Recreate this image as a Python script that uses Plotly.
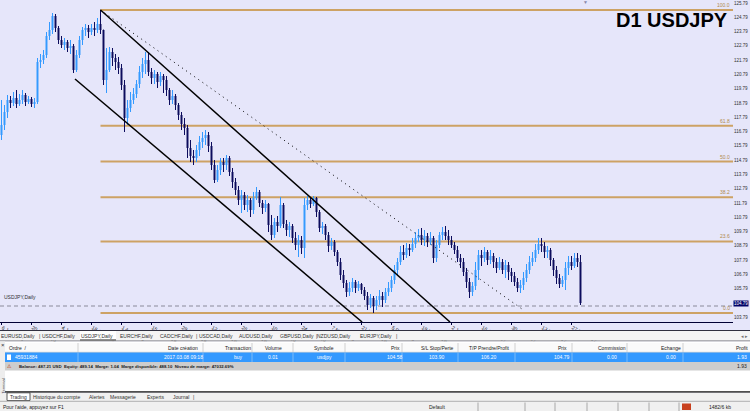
import plotly.graph_objects as go

# ---------------- data ----------------
bar_open = [116.55,117.25,118.16,119.00,118.79,119.14,118.72,119.00,119.35,118.86,
 119.07,118.72,118.86,121.66,121.80,122.15,123.48,123.90,124.88,124.04,
 123.20,122.85,123.06,122.64,122.78,121.10,122.15,123.20,123.90,124.04,
 123.76,124.04,123.90,124.32,123.90,120.40,121.10,122.36,121.94,121.66,
 121.24,120.05,117.74,118.44,119.00,119.42,120.12,120.96,121.52,121.80,
 120.96,120.54,120.82,120.26,120.68,120.40,119.70,119.00,119.28,118.65,
 117.95,117.32,117.04,115.64,115.08,114.94,115.50,116.06,116.34,116.55,
 115.78,114.45,113.40,114.10,114.66,114.45,114.94,113.96,113.26,112.70,
 112.00,112.35,111.65,112.00,111.30,112.14,112.56,111.79,111.44,111.72,
 110.25,109.55,110.46,110.18,111.65,110.32,109.90,110.18,109.34,108.85,
 109.20,108.64,111.65,112.00,111.72,112.14,111.16,110.04,110.18,109.55,
 108.78,109.06,108.36,107.66,106.75,106.19,105.56,105.84,106.26,105.84,
 106.12,105.70,105.28,104.65,105.14,104.58,105.00,105.28,105.00,105.56,
 105.84,106.40,107.10,107.66,108.36,108.15,108.64,108.50,108.92,109.34,
 109.55,109.20,109.48,109.06,109.34,107.94,108.85,109.55,109.76,109.48,
 109.20,108.85,108.50,107.94,107.66,106.96,106.26,105.56,105.98,107.10,
 108.15,107.94,108.36,107.80,108.08,107.66,107.24,107.66,107.10,107.45,
 106.96,106.68,106.26,105.84,106.05,106.54,107.10,107.66,107.94,108.50,
 108.92,108.78,108.36,108.50,107.80,107.10,106.54,106.12,106.40,107.24,
 107.66,107.38,107.94,107.66]

bar_high = [119.00,118.65,119.35,119.28,119.56,119.70,119.42,119.70,119.49,119.28,
 119.21,119.14,121.94,122.22,122.50,123.76,124.46,125.09,125.02,124.18,
 123.48,123.34,123.20,123.20,122.92,122.50,123.48,124.11,124.32,124.25,
 124.32,124.46,124.74,125.30,123.90,122.64,122.71,122.64,122.22,122.01,
 121.52,120.40,119.00,119.56,119.84,120.40,121.38,121.94,122.36,122.36,
 121.24,121.10,120.96,120.96,120.82,120.68,119.84,119.70,119.42,118.79,
 118.16,117.74,117.25,116.20,115.50,115.85,116.48,116.76,116.90,116.76,
 116.06,114.80,114.45,114.94,114.94,115.15,115.08,114.24,113.54,112.98,
 112.70,112.56,112.35,112.14,112.56,112.91,112.70,112.00,112.00,111.79,
 110.95,110.74,110.88,112.21,111.79,110.60,110.46,110.32,109.76,109.55,
 109.48,112.14,112.28,112.14,112.28,112.21,111.30,110.46,110.32,109.76,
 109.34,109.20,108.50,107.94,107.10,106.40,106.26,106.54,106.40,106.33,
 106.19,105.91,105.56,105.42,105.28,105.28,105.70,105.56,105.84,106.26,
 106.68,107.45,107.94,108.78,108.85,108.99,108.92,109.34,109.76,109.97,
 110.04,109.90,109.69,109.76,109.48,109.20,109.76,110.11,110.18,109.90,
 109.48,109.06,108.78,108.22,107.94,107.24,106.54,106.26,107.66,108.50,
 108.50,108.71,108.50,108.50,108.29,107.94,108.01,107.87,107.80,107.66,
 107.24,106.96,106.54,106.40,106.96,107.52,108.08,108.36,108.92,109.34,
 109.34,109.06,108.78,108.64,107.94,107.38,106.82,106.68,107.66,108.08,
 108.08,108.29,108.29,108.15]

bar_low = [116.20,116.90,117.74,118.44,118.58,118.44,118.58,118.72,118.58,118.72,
 118.51,118.44,118.72,121.24,121.52,121.94,123.20,123.62,123.76,122.92,
 122.64,122.50,122.36,122.22,120.89,120.96,121.94,122.85,123.48,123.34,
 123.55,123.48,123.69,123.62,120.05,119.49,120.96,121.38,121.10,120.82,
 119.70,116.76,117.25,118.16,118.72,119.14,119.84,120.54,120.82,120.68,
 120.12,120.12,119.84,119.98,119.49,119.28,118.65,118.72,118.30,117.60,
 116.90,116.55,114.94,114.66,114.45,114.66,115.08,115.64,115.85,115.36,
 114.10,113.19,113.26,113.75,113.96,114.10,113.68,112.84,112.35,111.65,
 111.09,111.30,111.16,110.81,111.02,112.00,111.51,111.02,111.16,109.76,
 109.20,109.34,109.76,110.04,110.04,109.48,109.41,108.99,108.50,108.01,
 108.22,107.94,111.30,111.44,111.58,110.81,109.76,109.62,109.20,108.36,
 108.50,108.08,107.38,106.40,105.84,105.21,105.28,105.56,105.49,105.63,
 105.42,105.00,104.30,104.44,104.09,104.30,104.65,104.51,104.79,105.28,
 105.56,106.12,106.75,107.45,107.80,107.94,108.08,108.36,108.64,109.06,
 108.85,108.78,108.71,108.85,107.59,107.66,108.64,109.20,109.20,108.85,
 108.64,108.22,107.66,107.24,106.68,105.84,105.14,105.28,105.70,106.40,
 107.38,107.66,107.45,107.52,107.24,106.89,107.10,106.82,106.54,106.40,
 106.26,105.98,105.56,105.49,105.70,106.26,106.82,107.38,107.66,108.22,
 108.36,107.94,107.94,107.38,106.68,106.12,105.84,105.91,105.70,106.75,
 107.10,107.24,107.31,104.65]

bar_close = [117.25,118.16,119.00,118.79,119.14,118.72,119.00,119.35,118.86,119.07,
 118.72,118.86,121.66,121.80,122.15,123.48,123.90,124.88,124.04,123.20,
 122.85,123.06,122.64,122.78,121.10,122.15,123.20,123.90,124.04,123.76,
 124.04,123.90,124.32,123.90,120.40,121.10,122.36,121.94,121.66,121.24,
 120.05,117.74,118.44,119.00,119.42,120.12,120.96,121.52,121.80,120.96,
 120.54,120.82,120.26,120.68,120.40,119.70,119.00,119.28,118.65,117.95,
 117.32,117.04,115.64,115.08,114.94,115.50,116.06,116.34,116.55,115.78,
 114.45,113.40,114.10,114.66,114.45,114.94,113.96,113.26,112.70,112.00,
 112.35,111.65,112.00,111.30,112.14,112.56,111.79,111.44,111.72,110.25,
 109.55,110.46,110.18,111.65,110.32,109.90,110.18,109.34,108.85,109.20,
 108.64,111.65,112.00,111.72,112.14,111.16,110.04,110.18,109.55,108.78,
 109.06,108.36,107.66,106.75,106.19,105.56,105.84,106.26,105.84,106.12,
 105.70,105.28,104.65,105.14,104.58,105.00,105.28,105.00,105.56,105.84,
 106.40,107.10,107.66,108.36,108.15,108.64,108.50,108.92,109.34,109.55,
 109.20,109.48,109.06,109.34,107.94,108.85,109.55,109.76,109.48,109.20,
 108.85,108.50,107.94,107.66,106.96,106.26,105.56,105.98,107.10,108.15,
 107.94,108.36,107.80,108.08,107.66,107.24,107.66,107.10,107.45,106.96,
 106.68,106.26,105.84,106.05,106.54,107.10,107.66,107.94,108.50,108.92,
 108.78,108.36,108.50,107.80,107.10,106.54,106.12,106.40,107.24,107.66,
 107.38,107.94,107.66,104.79]

bar_index = list(range(len(bar_close)))

date_tick_bars = [0, 10, 20, 30, 40, 50, 60, 70, 80, 90, 100, 110, 120, 130, 140, 150, 160, 170, 180, 190]
date_tick_labels = ["6 Jun 2016", "20 Jun 2016", "4 Jul 2016", "18 Jul 2016", "1 Aug 2016",
                    "15 Aug 2016", "29 Aug 2016", "12 Sep 2016", "26 Sep 2016", "10 Oct 2016",
                    "24 Oct 2016", "7 Nov 2016", "21 Nov 2016", "5 Dec 2016", "19 Dec 2016",
                    "2 Jan 2017", "16 Jan 2017", "30 Jan 2017", "13 Feb 2017", "27 Feb 2017"]

fib_levels = [100.0, 61.8, 50.0, 38.2, 23.6, 0.0]
fib_labels = ["100.0", "61.8", "50.0", "38.2", "23.6", "0.0"]
fib_high_price = 125.30
fib_low_price = 104.09
fib_start_bar = 33

channel_upper_bars = [33, 149.5]
channel_upper_prices = [125.30, 103.46]
channel_lower_bars = [24.5, 120.2]
channel_lower_prices = [120.47, 103.46]
dotted_trend_bars = [33, 173.5]
dotted_trend_prices = [125.30, 104.37]
order_line_price = 104.58
last_price = 104.79

tab_labels = ["EURUSD,Daily", "|", "USDCHF,Daily", "USDJPY,Daily", "EURCHF,Daily", "CADCHF,Daily", "|",
              "USDCAD,Daily", "AUDUSD,Daily", "GBPUSD,Daily", "|", "NZDUSD,Daily", "EURJPY,Daily", "|"]
header_labels = ["Ordre  /", "Date création", "Transaction", "Volume", "Symbole", "Prix", "S/L Stop/Perte",
                 "T/P Prendre/Profit", "Prix", "Commission", "Echange", "Profit"]
order_row = ["45931884", "2017.03.08 09:18", "buy", "0.01", "usdjpy", "104.58", "103.90",
             "106.20", "104.79", "0.00", "0.00", "1.93"]
account_line = "Balance: 487.21 USD  Equity: 489.14  Marge: 1.04  Marge disponible: 488.10  Niveau de marge: 47032.69%"
bottom_tabs = ["Trading", "Historique du compte", "Alertes", "Messagerie", "Experts", "Journal", "|"]
status_left = "Pour l'aide, appuyez sur F1"
status_profile = "Default"
status_traffic = "1482/6 kb"

# ---------------- styling / layout ----------------
W, H = 750, 411
PR, PB = 733, 322          # plot area right edge / bottom edge in px
BG = "#E6E6FA"
UP = "#3399FF"
DOWN = "#0B0B5C"
FIB = "#CDA264"
FONT = "Liberation Sans, Arial, sans-serif"
TXT = "#303030"


def px(X):
    return X / PR


def py(Y):
    return (PB - Y) / PB


fig = go.Figure()

fig.add_trace(go.Candlestick(
    x=bar_index, open=bar_open, high=bar_high, low=bar_low, close=bar_close,
    increasing=dict(line=dict(color=UP, width=1), fillcolor=UP),
    decreasing=dict(line=dict(color=DOWN, width=1), fillcolor=DOWN),
    whiskerwidth=0, showlegend=False, hoverinfo="skip"))

fig.add_trace(go.Scatter(x=channel_upper_bars, y=channel_upper_prices, mode="lines",
                         line=dict(color="black", width=1.5), showlegend=False, hoverinfo="skip"))
fig.add_trace(go.Scatter(x=channel_lower_bars, y=channel_lower_prices, mode="lines",
                         line=dict(color="black", width=1.5), showlegend=False, hoverinfo="skip"))
fig.add_trace(go.Scatter(x=dotted_trend_bars, y=dotted_trend_prices, mode="lines",
                         line=dict(color="black", width=1, dash="1px,4px"), showlegend=False, hoverinfo="skip"))

X_MAX = PR / 3.0 - 0.5

shapes = []
annotations = []

# fibonacci levels
for lv, lab in zip(fib_levels, fib_labels):
    price = fib_low_price + lv / 100.0 * (fib_high_price - fib_low_price)
    shapes.append(dict(type="line", xref="x", yref="y", x0=fib_start_bar, x1=X_MAX, y0=price, y1=price,
                       line=dict(color=FIB, width=2), layer="below"))
    annotations.append(dict(xref="x", yref="y", x=X_MAX - 0.3, y=price, xanchor="right", yanchor="bottom",
                            text=lab, showarrow=False, font=dict(size=5, color="#B08A4A", family=FONT)))

# order line
shapes.append(dict(type="line", xref="paper", yref="y", x0=0, x1=1, y0=order_line_price, y1=order_line_price,
                   line=dict(color="#8A8A9A", width=1, dash="4px,3px"), layer="below"))

# chart texts
annotations.append(dict(xref="paper", yref="paper", x=px(730), y=py(20), xanchor="right", yanchor="middle",
                        text="<b>D1 USDJPY</b>", showarrow=False,
                        font=dict(size=20, color="black", family=FONT)))
annotations.append(dict(xref="paper", yref="paper", x=px(2), y=py(297), xanchor="left", yanchor="middle",
                        text="USDJPY,Daily", showarrow=False, font=dict(size=5, color=TXT, family=FONT)))
annotations.append(dict(xref="paper", yref="paper", x=px(585), y=py(1.5), xanchor="center", yanchor="middle",
                        text="▼", showarrow=False, font=dict(size=5, color="#8888AA", family=FONT)))
annotations.append(dict(xref="paper", yref="y", x=1.0, y=last_price, xanchor="left", yanchor="middle",
                        text=f"{last_price:.2f}", showarrow=False, bgcolor="#000066", borderpad=0,
                        font=dict(size=4.5, color="white", family=FONT)))


def rect(x0, y0, x1, y1, fill, line_color=None, lw=0):
    shapes.append(dict(type="rect", xref="paper", yref="paper", x0=px(x0), x1=px(x1), y0=py(y1), y1=py(y0),
                       fillcolor=fill, line=dict(width=lw, color=line_color or fill), layer="above"))


def hline(x0, x1, Y, color, w=1):
    shapes.append(dict(type="line", xref="paper", yref="paper", x0=px(x0), x1=px(x1), y0=py(Y), y1=py(Y),
                       line=dict(color=color, width=w), layer="above"))


def vline(X, y0, y1, color, w=1):
    shapes.append(dict(type="line", xref="paper", yref="paper", x0=px(X), x1=px(X), y0=py(y0), y1=py(y1),
                       line=dict(color=color, width=w), layer="above"))


def text(X, Y, s, size=5, color=TXT, anchor="center", angle=0):
    annotations.append(dict(xref="paper", yref="paper", x=px(X), y=py(Y), xanchor=anchor, yanchor="middle",
                            text=s, showarrow=False, textangle=angle,
                            font=dict(size=size, color=color, family=FONT)))


# ---- terminal panel ----
hline(0, 750, 330.5, "#303040", 1)
rect(0, 331, 750, 340.5, "#F4F4F4")
rect(80, 331, 116, 340.5, "#FFFFFF")
hline(80, 116, 340, "#202020", 1)
hline(0, 750, 341, "#707070", 1)
tab_x = [18, 39, 58, 97, 136, 176, 196, 216, 256, 297, 316, 334, 376, 396]
for lab, X in zip(tab_labels, tab_x):
    text(X, 335.5, lab)
text(744, 335.5, "◂ ▸", color="#707070")

rect(0, 341.5, 750, 392, "#FFFFFF")
rect(0, 341.5, 5, 392, "#EDEDED")
text(2.5, 344.5, "×", size=6, color="#303030")
text(2.5, 386, "Terminal", size=4, color="#404040", angle=-90)

# header row
rect(5, 343, 750, 352, "#FAFAFA")
hline(5, 750, 352.3, "#C8C8C8", 1)
header_sep_x = [78, 203, 252, 293, 345, 402, 458, 515, 572, 627, 683]
for X in header_sep_x:
    vline(X, 343, 352, "#D0D0D0")
col_x = [18, 183, 238, 273, 324, 395, 437, 489, 562, 612, 671, 742]
for i, (lab, X) in enumerate(zip(header_labels, col_x)):
    text(X, 347.8, lab, color="#202020")

# selected order row
rect(5, 352.6, 750, 362, UP)
for X in header_sep_x:
    vline(X, 352.6, 362, "#7DBBF7")
rect(7, 354.5, 11, 360, "#FFFFFF")
for i, (val, X) in enumerate(zip(order_row, col_x)):
    text(X + (8 if i == 0 else 0), 357.3, val, color="#FFFFFF")

# account row
rect(5, 362, 750, 370.6, "#CDCDCD")
text(9.5, 366.3, "⚠", size=5, color="#C03000")
text(17, 366.3, "<b>" + account_line + "</b>", size=4.3, color="#202020", anchor="left")
text(742, 366.3, "1.93", color="#202020")

# bottom tabs
hline(5, 750, 392, "#151515", 1.5)
rect(0, 392.8, 750, 401, "#F0F0F0")
rect(7, 392.8, 30, 400.5, "#FFFFFF", "#303030", 0.8)
bt_x = [18.5, 57, 97, 123, 155, 181, 193]
for lab, X in zip(bottom_tabs, bt_x):
    text(X, 396.8, lab, color="#303030")

# status bar
rect(0, 401.3, 750, 411, "#F0F0F0")
hline(0, 750, 401.3, "#B0B0B0", 1)
for X in [478, 525, 555, 587, 618, 649, 679]:
    vline(X, 402.5, 411, "#A8A8A8")
text(1, 406.8, status_left, anchor="left", color="#202020")
text(437, 406.8, status_profile, color="#202020")
rect(682, 403.5, 691, 410, "#C8401E")
text(720, 406.8, status_traffic, color="#202020")

fig.update_layout(
    width=W, height=H,
    margin=dict(l=0, r=W - PR, t=0, b=H - PB, pad=0),
    paper_bgcolor=BG, plot_bgcolor=BG,
    boxgap=0.55, showlegend=False,
    shapes=shapes, annotations=annotations,
    font=dict(family=FONT, size=5, color=TXT),
    xaxis=dict(range=[-0.5, X_MAX], rangeslider=dict(visible=False), showgrid=False, zeroline=False,
               tickmode="array", tickvals=date_tick_bars, ticktext=date_tick_labels,
               ticks="outside", ticklen=2, tickcolor="#000040",
               tickfont=dict(size=5, color="#202020", family=FONT), ticklabelposition="outside right",
               showline=True, linecolor="#000033", linewidth=1, fixedrange=True, automargin=False),
    yaxis=dict(range=[103.46, 126.00], side="right", showgrid=False, zeroline=False,
               tick0=125.79, dtick=1.0, tickformat=".2f", ticks="",
               tickfont=dict(size=4.5, color=TXT, family=FONT), showline=False,
               fixedrange=True, automargin=False),
)

fig.write_html("out.html",
               config={"displayModeBar": False, "staticPlot": True},
               post_script="document.body.style.margin='0';document.body.style.overflow='hidden';")
